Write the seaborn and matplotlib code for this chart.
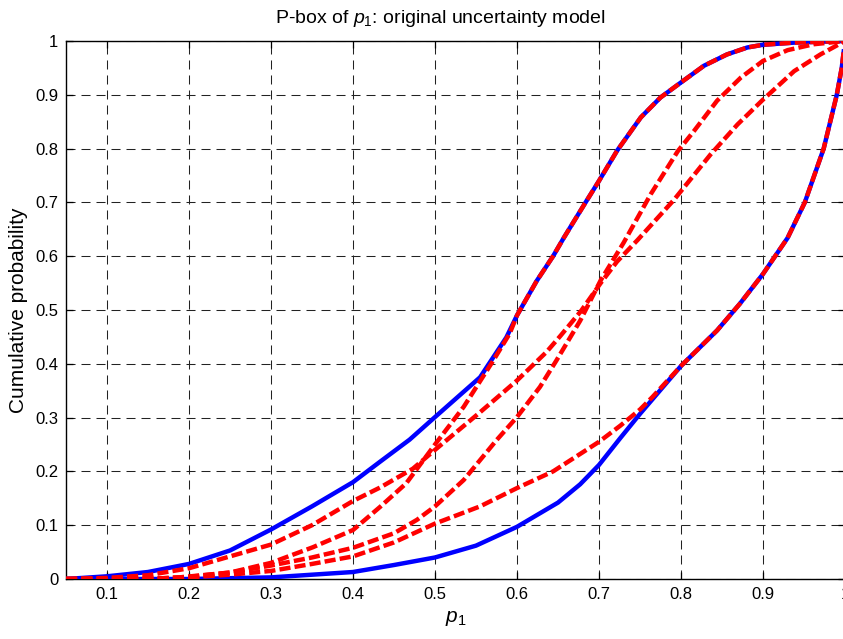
import numpy as np
import pandas as pd
import matplotlib
matplotlib.use("Agg")
import matplotlib.pyplot as plt
import seaborn as sns

# Outer bounds of the p-box (solid blue)
x_upper = [0.05, 0.10, 0.15, 0.20, 0.25, 0.30, 0.35, 0.40, 0.433, 0.469, 0.50, 0.555,
           0.587, 0.60, 0.624, 0.644, 0.657, 0.682, 0.70, 0.722, 0.751, 0.775, 0.80,
           0.828, 0.856, 0.881, 0.90, 0.938, 1.00]
y_upper = [0.0, 0.005, 0.013, 0.028, 0.053, 0.092, 0.135, 0.18, 0.218, 0.259, 0.301, 0.375,
           0.449, 0.49, 0.554, 0.60, 0.634, 0.696, 0.74, 0.796, 0.858, 0.895, 0.923,
           0.954, 0.975, 0.988, 0.993, 0.997, 1.0]

x_lower = [0.05, 0.20, 0.30, 0.40, 0.45, 0.50, 0.55, 0.60, 0.65, 0.677, 0.70, 0.726, 0.75,
           0.80, 0.844, 0.872, 0.90, 0.93, 0.951, 0.974, 0.99, 0.996, 1.00]
y_lower = [0.0, 0.0, 0.003, 0.013, 0.026, 0.04, 0.062, 0.097, 0.142, 0.176, 0.212, 0.262, 0.307,
           0.396, 0.462, 0.512, 0.567, 0.634, 0.70, 0.80, 0.90, 0.95, 1.0]

# Individual CDFs (dashed red)
x_cdf_a = [0.05, 0.15, 0.188, 0.25, 0.30, 0.351, 0.40, 0.433, 0.465, 0.50, 0.535, 0.571,
           0.591, 0.60, 0.624, 0.644, 0.657, 0.682, 0.70, 0.722, 0.751, 0.775, 0.80,
           0.828, 0.856, 0.881, 0.90, 0.938, 1.00]
y_cdf_a = [0.0, 0.0, 0.003, 0.012, 0.03, 0.059, 0.091, 0.134, 0.178, 0.25, 0.32, 0.406,
           0.456, 0.49, 0.554, 0.60, 0.634, 0.696, 0.74, 0.796, 0.858, 0.895, 0.923,
           0.954, 0.975, 0.988, 0.993, 0.997, 1.0]

x_cdf_b = [0.05, 0.10, 0.15, 0.20, 0.25, 0.30, 0.35, 0.40, 0.433, 0.473, 0.50, 0.555, 0.60,
           0.636, 0.653, 0.678, 0.702, 0.722, 0.747, 0.791, 0.836, 0.869, 0.90, 0.938,
           0.97, 1.00]
y_cdf_b = [0.0, 0.002, 0.007, 0.02, 0.042, 0.064, 0.10, 0.145, 0.17, 0.205, 0.24, 0.31, 0.369,
           0.422, 0.452, 0.498, 0.55, 0.59, 0.63, 0.704, 0.789, 0.845, 0.891, 0.944,
           0.975, 1.0]

x_cdf_c = [0.05, 0.15, 0.20, 0.25, 0.30, 0.35, 0.40, 0.45, 0.478, 0.50, 0.535, 0.575, 0.60,
           0.628, 0.648, 0.677, 0.702, 0.722, 0.73, 0.763, 0.796, 0.816, 0.844, 0.873,
           0.90, 0.93, 0.962, 1.00]
y_cdf_c = [0.0, 0.0, 0.004, 0.012, 0.025, 0.04, 0.058, 0.085, 0.11, 0.135, 0.184, 0.258, 0.301,
           0.357, 0.406, 0.48, 0.555, 0.605, 0.625, 0.715, 0.795, 0.833, 0.889, 0.932,
           0.963, 0.983, 0.994, 1.0]

x_cdf_d = [0.05, 0.15, 0.20, 0.25, 0.30, 0.35, 0.40, 0.45, 0.50, 0.555, 0.60, 0.644, 0.70,
           0.726, 0.75, 0.765, 0.80, 0.844, 0.872, 0.90, 0.93, 0.951, 0.974, 0.99, 0.996, 1.00]
y_cdf_d = [0.0, 0.0, 0.003, 0.008, 0.015, 0.028, 0.042, 0.068, 0.103, 0.135, 0.169, 0.20, 0.255,
           0.285, 0.315, 0.338, 0.396, 0.462, 0.512, 0.567, 0.634, 0.70, 0.80, 0.90, 0.95, 1.0]

x_ticks = [0.1, 0.2, 0.3, 0.4, 0.5, 0.6, 0.7, 0.8, 0.9, 1.0]
x_tick_labels = ["0.1", "0.2", "0.3", "0.4", "0.5", "0.6", "0.7", "0.8", "0.9", "1"]
y_ticks = [0.0, 0.1, 0.2, 0.3, 0.4, 0.5, 0.6, 0.7, 0.8, 0.9, 1.0]
y_tick_labels = ["0", "0.1", "0.2", "0.3", "0.4", "0.5", "0.6", "0.7", "0.8", "0.9", "1"]

sns.set_theme(style="white")
plt.rcParams["font.family"] = ["Liberation Sans", "DejaVu Sans"]
plt.rcParams["mathtext.fontset"] = "custom"
plt.rcParams["mathtext.rm"] = "Liberation Sans"
plt.rcParams["mathtext.it"] = "Liberation Sans:italic"
plt.rcParams["lines.scale_dashes"] = False

fig = plt.figure(figsize=(8.43, 6.39), dpi=100)
fig.patch.set_facecolor("white")
W, H = 843.0, 639.0
ax = fig.add_axes([66 / W, 1 - 579 / H, 779 / W, 538 / H])
ax.set_facecolor("white")

bounds = [(x_upper, y_upper), (x_lower, y_lower)]
cdfs = [(x_cdf_a, y_cdf_a), (x_cdf_b, y_cdf_b), (x_cdf_c, y_cdf_c), (x_cdf_d, y_cdf_d)]

for xs, ys in bounds:
    df = pd.DataFrame({"p": xs, "F": ys})
    sns.lineplot(data=df, x="p", y="F", ax=ax, color="#0000ff", linewidth=3.2,
                 sort=False, estimator=None, solid_capstyle="butt",
                 solid_joinstyle="round", zorder=3)

for xs, ys in cdfs:
    df = pd.DataFrame({"p": xs, "F": ys})
    sns.lineplot(data=df, x="p", y="F", ax=ax, color="#ff0000", linewidth=3.2,
                 sort=False, estimator=None, linestyle=(0, (8, 3)),
                 dash_capstyle="butt", dash_joinstyle="round", zorder=4)

ax.set_xlim(0.05, 1.0)
ax.set_ylim(0, 1)
ax.set_xticks(x_ticks)
ax.set_xticklabels(x_tick_labels)
ax.set_yticks(y_ticks)
ax.set_yticklabels(y_tick_labels)

ax.grid(True, color="#222222", linestyle=(0, (6.5, 4.3)), linewidth=0.75)
ax.set_axisbelow(True)
for s in ax.spines.values():
    s.set_visible(True)
    s.set_color("black")
    s.set_linewidth(1.0)

ax.tick_params(axis="both", which="major", direction="in", length=5, width=0.9,
               colors="black", labelsize=12, pad=5.5,
               top=True, right=True, bottom=True, left=True)

ax.set_xlabel(r"$\mathit{p}_1$", fontsize=15, color="black", labelpad=5)
ax.set_ylabel("Cumulative probability", fontsize=15, color="black", labelpad=5)
ax.set_title(r"P-box of $\mathit{p}_1$: original uncertainty model", fontsize=14,
             color="black", pad=13, x=(440 - 66) / 779)

fig.savefig("out.png", dpi=100, facecolor="white")
